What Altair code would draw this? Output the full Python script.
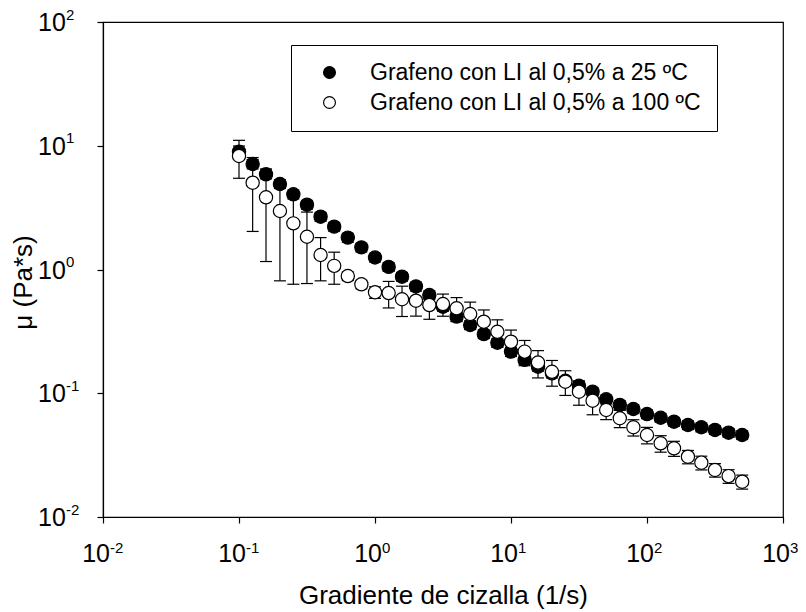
import altair as alt
import pandas as pd

series_names = ["Grafeno con LI al 0,5% a 25 ºC", "Grafeno con LI al 0,5% a 100 ºC"]

shear = [0.1, 0.126, 0.158, 0.2, 0.251, 0.316, 0.398, 0.501, 0.631, 0.794,
         1.0, 1.26, 1.58, 2.0, 2.51, 3.16, 3.98, 5.01, 6.31, 7.94,
         10.0, 12.6, 15.8, 20.0, 25.1, 31.6, 39.8, 50.1, 63.1, 79.4,
         100.0, 126.0, 158.0, 200.0, 251.0, 316.0, 398.0, 501.0]

visc_25 = [8.95, 7.12, 5.88, 4.91, 4.05, 3.34, 2.67, 2.22, 1.81, 1.51,
           1.25, 1.05, 0.875, 0.73, 0.622, 0.50, 0.416, 0.356, 0.301, 0.256,
           0.217, 0.186, 0.164, 0.145, 0.126, 0.115, 0.103, 0.0893, 0.0804, 0.0746,
           0.0679, 0.0634, 0.0589, 0.0554, 0.0531, 0.0505, 0.048, 0.046]
err_25 = [1.0, 0.62, 0.48, 0.40, 0.33, 0.27, 0.22, 0.18, 0.15, 0.12,
          0.10, 0.085, 0.07, 0.06, 0.05, 0.04, 0.034, 0.029, 0.024, 0.021,
          0.018, 0.015, 0.013, 0.012, 0.010, 0.009, 0.008, 0.0072, 0.0065, 0.006,
          0.0055, 0.005, 0.0047, 0.0045, 0.0043, 0.004, 0.0039, 0.0037]

visc_100 = [8.26, 5.03, 3.83, 2.97, 2.36, 1.84, 1.31, 1.07, 0.885, 0.759,
            0.654, 0.645, 0.575, 0.56, 0.516, 0.526, 0.486, 0.437, 0.379, 0.314,
            0.261, 0.217, 0.177, 0.149, 0.124, 0.103, 0.087, 0.0732, 0.0628, 0.0531,
            0.046, 0.0394, 0.0359, 0.0307, 0.0275, 0.024, 0.0214, 0.0193]
err_100 = [2.8, 3.0, 2.67, 2.16, 1.6, 1.07, 0.5, 0.31, 0.07, 0.06,
           0.07, 0.156, 0.158, 0.14, 0.12, 0.107, 0.107, 0.108, 0.092, 0.078,
           0.063, 0.05, 0.044, 0.035, 0.028, 0.023, 0.02, 0.012, 0.01, 0.008,
           0.007, 0.006, 0.005, 0.0038, 0.0035, 0.003, 0.0027, 0.0025]

x_ticks = [0.01, 0.1, 1, 10, 100, 1000]
x_tick_exp = ["-2", "-1", "0", "1", "2", "3"]
y_ticks = [0.01, 0.1, 1, 10, 100]
y_tick_exp = ["-2", "-1", "0", "1", "2"]
tick_base = "10"

rows = []
for name, ys, es in [(series_names[0], visc_25, err_25), (series_names[1], visc_100, err_100)]:
    for x, y, e in zip(shear, ys, es):
        rows.append(dict(serie=name, x=x, y=y, lo=y - e, hi=y + e))
df = pd.DataFrame(rows)

xt_df = pd.DataFrame({"v": x_ticks, "base": [tick_base] * len(x_ticks), "exp": x_tick_exp})
yt_df = pd.DataFrame({"v": y_ticks, "base": [tick_base] * len(y_ticks), "exp": y_tick_exp})

FONT = "Liberation Sans"
BASE_FS = 25
EXP_FS = 15

xscale = alt.Scale(type="log", domain=[0.01, 1000], nice=False)
yscale = alt.Scale(type="log", domain=[0.01, 100], nice=False)

xaxis = alt.Axis(values=x_ticks, labels=False, tickSize=6, grid=False,
                 title="Gradiente de cizalla (1/s)", titleX=340, titleY=86,
                 titleBaseline="alphabetic", titleAlign="center")
yaxis = alt.Axis(values=y_ticks, labels=False, tickSize=6, grid=False,
                 title="μ (Pa*s)", titleX=-72, titleY=260, titleAngle=270,
                 titleAlign="center", titleBaseline="alphabetic")

base = alt.Chart(df)

rules = base.mark_rule(color="black", strokeWidth=1.2, opacity=1).encode(
    x=alt.X("x:Q", scale=xscale, axis=xaxis),
    y=alt.Y("lo:Q", scale=yscale, axis=yaxis),
    y2="hi:Q",
)
cap_lo = base.mark_tick(orient="horizontal", color="black", size=12, thickness=1.2, opacity=1).encode(
    x=alt.X("x:Q", scale=xscale), y=alt.Y("lo:Q", scale=yscale)
)
cap_hi = base.mark_tick(orient="horizontal", color="black", size=12, thickness=1.2, opacity=1).encode(
    x=alt.X("x:Q", scale=xscale), y=alt.Y("hi:Q", scale=yscale)
)
points = base.mark_point(filled=True, size=175, stroke="black", strokeWidth=1.2, opacity=1, shape="circle").encode(
    x=alt.X("x:Q", scale=xscale),
    y=alt.Y("y:Q", scale=yscale),
    fill=alt.Fill("serie:N", scale=alt.Scale(domain=series_names, range=["black", "white"]),
                  legend=alt.Legend(title=None, orient="none", legendX=188, legendY=23,
                                    strokeColor="black", fillColor="white", padding=16,
                                    symbolType="circle", symbolSize=140,
                                    symbolStrokeColor="black", symbolStrokeWidth=1.2,
                                    symbolOffset=11, labelOffset=29, labelFontSize=23,
                                    labelFont=FONT, labelColor="black", rowPadding=6,
                                    labelLimit=0)),
)

# x tick labels: "10" with raised exponent
x_base = alt.Chart(xt_df).mark_text(align="right", baseline="alphabetic", dx=7,
                                    font=FONT, fontSize=BASE_FS, color="black").encode(
    x=alt.X("v:Q", scale=xscale), y=alt.value(540), text="base:N")
x_exp = alt.Chart(xt_df).mark_text(align="left", baseline="alphabetic", dx=7,
                                   font=FONT, fontSize=EXP_FS, color="black").encode(
    x=alt.X("v:Q", scale=xscale), y=alt.value(531), text="exp:N")

# y tick labels
y_base = alt.Chart(yt_df).mark_text(align="left", baseline="alphabetic", dy=9,
                                    font=FONT, fontSize=BASE_FS, color="black").encode(
    x=alt.value(-65), y=alt.Y("v:Q", scale=yscale), text="base:N")
y_exp = alt.Chart(yt_df).mark_text(align="left", baseline="alphabetic", dy=-2.5,
                                   font=FONT, fontSize=EXP_FS, color="black").encode(
    x=alt.value(-37), y=alt.Y("v:Q", scale=yscale), text="exp:N")

chart = alt.layer(rules, cap_lo, cap_hi, points, x_base, x_exp, y_base, y_exp).properties(
    width=680, height=495,
    autosize=alt.AutoSizeParams(type="none"),
    padding={"left": 103, "top": 22, "right": 23, "bottom": 95},
    background="white",
).configure_view(stroke="black", strokeWidth=1.2).configure_axis(
    labelFont=FONT, labelColor="black",
    titleFont=FONT, titleFontSize=26, titleFontWeight="normal", titleColor="black",
    domainColor="black", domainWidth=1.2, tickColor="black", tickWidth=1.2,
)

chart.save("out.html", embed_options={"renderer": "svg", "actions": False})
